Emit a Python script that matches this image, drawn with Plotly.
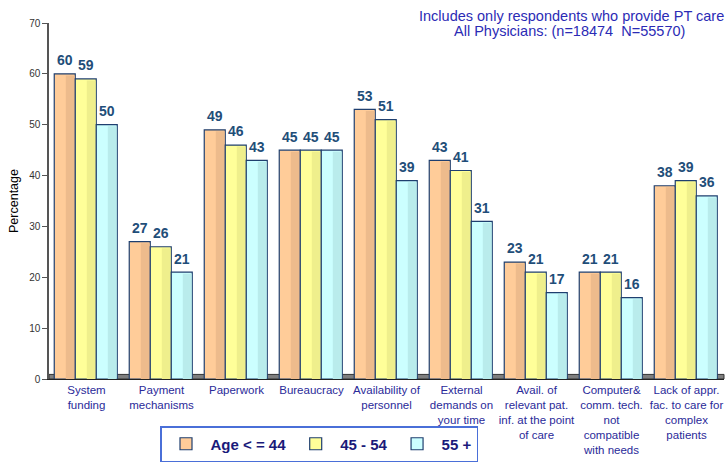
import plotly.graph_objects as go

categories = ["System<br>funding", "Payment<br>mechanisms", "Paperwork", "Bureaucracy",
              "Availability of<br>personnel", "External<br>demands on<br>your time",
              "Avail. of<br>relevant pat.<br>inf. at the point<br>of care",
              "Computer&<br>comm. tech.<br>not<br>compatible<br>with needs",
              "Lack of appr.<br>fac. to care for<br>complex<br>patients"]
series_names = ["Age < = 44", "45 - 54", "55 +"]
age_le_44 = [60, 27, 49, 45, 53, 43, 23, 21, 38]
age_45_54 = [59, 26, 46, 45, 51, 41, 21, 21, 39]
age_55_plus = [50, 21, 43, 45, 39, 31, 17, 16, 36]
y_ticks = [0, 10, 20, 30, 40, 50, 60, 70]

series_values = [age_le_44, age_45_54, age_55_plus]
light = ["#FFCC99", "#FFFF99", "#CCFFFF"]
dark = ["#EDBB8C", "#EFEF8C", "#B9ECEC"]
x = list(range(len(categories)))
bw = 0.28
offsets = [-0.43, -0.15, 0.13]

fig = go.Figure()
# floor
fig.add_shape(type="rect", xref="paper", yref="y", x0=0, x1=1, y0=0, y1=0.9,
              fillcolor="#7F7F7F", line=dict(color="#333333", width=1), layer="below")

for i, (name, vals) in enumerate(zip(series_names, series_values)):
    fig.add_trace(go.Bar(
        x=x, y=vals, name=name, width=bw, offset=offsets[i],
        marker=dict(color=light[i], line=dict(color="#1F3F6F", width=1.2)),
        hoverinfo="y",
    ))
    fig.add_trace(go.Bar(
        x=x, y=[v - 0.3 for v in vals], width=bw * 0.42, offset=offsets[i] + bw * 0.55,
        marker=dict(color=dark[i], line=dict(width=0)),
        showlegend=False, hoverinfo="skip",
    ))

for i, vals in enumerate(series_values):
    fig.add_trace(go.Scatter(
        x=[xi + offsets[i] + bw / 2 for xi in x], y=[v + 1.0 for v in vals],
        mode="text", text=[str(v) for v in vals], textposition="top center",
        textfont=dict(family="Arial", size=14, color="#1F4E79", weight="bold"),
        showlegend=False, hoverinfo="skip", cliponaxis=False,
    ))

fig.update_layout(
    width=725, height=463,
    margin=dict(l=49, r=1, t=23, b=84),
    barmode="overlay",
    plot_bgcolor="white", paper_bgcolor="white",
    font=dict(family="Arial", color="#000000"),
    showlegend=True,
    legend=dict(orientation="h", x=(160 - 49) / 675, y=(379 - 462) / 356, xanchor="left", yanchor="bottom",
                bordercolor="#4A6FD8", borderwidth=1.5, bgcolor="white",
                font=dict(family="Arial", size=15, color="#1A1A7A", weight="bold"),
                itemwidth=39, traceorder="normal"),
    xaxis=dict(tickmode="array", tickvals=x, ticktext=categories, range=[-0.5, 8.5],
               showline=True, linecolor="#222222", ticks="", showgrid=False, automargin=False,
               tickfont=dict(family="Arial", size=11.5, color="#2A2A99")),
    yaxis=dict(range=[0, 70], tickvals=y_ticks, showline=True, linecolor="#555555",
               linewidth=1.5, ticks="outside", ticklen=5, tickcolor="#555555",
               showgrid=False, zeroline=False, automargin=False,
               tickfont=dict(family="Arial", size=10, color="#333333"),
               title=dict(text="Percentage", font=dict(family="Arial", size=12.5, color="#000000"), standoff=8)),
)
fig.add_annotation(xref="paper", yref="paper", x=(571 - 49) / 675, y=(379 - 16) / 356,
                   xanchor="center", yanchor="middle",
                   text="Includes only respondents who provide PT care",
                   showarrow=False, font=dict(family="Arial", size=14.5, color="#2B2BB5"))
fig.add_annotation(xref="paper", yref="paper", x=(569 - 49) / 675, y=(379 - 31) / 356,
                   xanchor="center", yanchor="middle",
                   text="All Physicians: (n=18474  N=55570)",
                   showarrow=False, font=dict(family="Arial", size=14.5, color="#2B2BB5"))

fig.write_html("out.html")
